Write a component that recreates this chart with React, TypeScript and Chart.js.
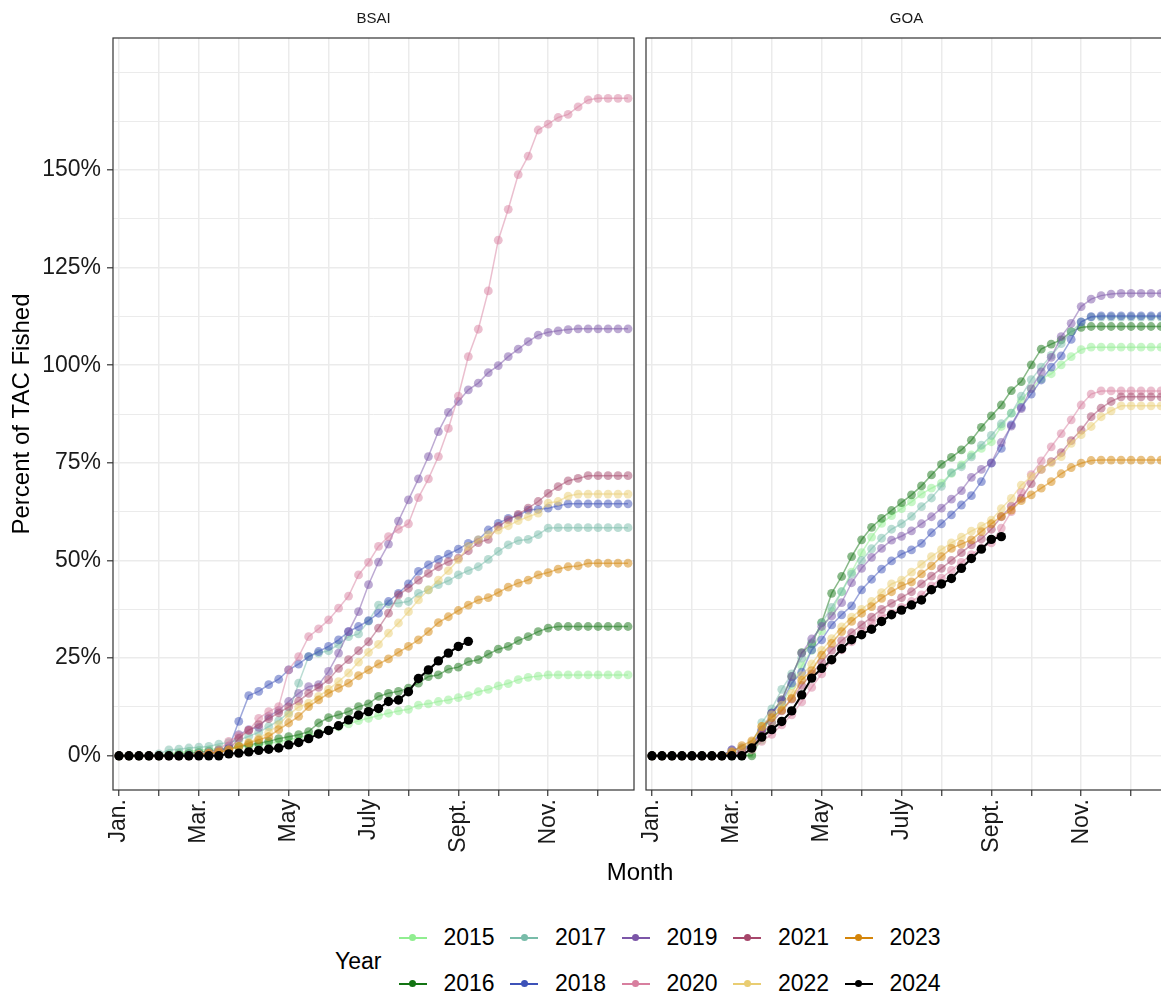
import React, { useEffect, useRef } from 'react';
import { Chart, registerables } from 'chart.js';

Chart.register(...registerables);

const FONT = "'Liberation Sans', Arial, Helvetica, sans-serif";

// ---------- data ----------
const WEEKS = [0, 1, 2, 3, 4, 5, 6, 7, 8, 9, 10, 11, 12, 13, 14, 15, 16, 17, 18, 19, 20, 21, 22, 23, 24, 25,
  26, 27, 28, 29, 30, 31, 32, 33, 34, 35, 36, 37, 38, 39, 40, 41, 42, 43, 44, 45, 46, 47, 48, 49, 50, 51];

const YEARS = ['2015', '2016', '2017', '2018', '2019', '2020', '2021', '2022', '2023', '2024'];
const YEAR_COLORS = ['#90EE90', '#137413', '#78BCA9', '#3D52B8', '#7C56A8', '#D87F9F', '#A6476B', '#E9CD72', '#D4850A', '#000000'];

const X_BREAKS = [0, 4, 8, 12, 17, 21, 25, 29, 34, 38, 43, 48];
const X_LABELS = ['Jan.', '', 'Mar.', '', 'May', '', 'July', '', 'Sept.', '', 'Nov.', ''];

const Y_BREAKS = [0, 25, 50, 75, 100, 125, 150];
const Y_LABELS = ['0%', '25%', '50%', '75%', '100%', '125%', '150%'];
const Y_MINOR = [12.5, 37.5, 62.5, 87.5, 112.5, 137.5, 162.5, 175];

const PANELS = ['BSAI', 'GOA'];

// BSAI, percent of TAC fished by week
const BSAI_2015 = [0, 0, 0, 0, 0, 0.5, 0.8, 1.1, 1.4, 1.6, 1.8, 2.0, 2.2, 2.5, 2.8, 3.2, 3.6, 4.1, 4.6, 5.2,
  5.9, 6.6, 7.4, 8.2, 9.0, 9.6, 10.3, 10.9, 11.5, 11.9, 13.0, 13.3, 13.9, 14.3, 14.9, 15.4, 16.4, 17.0, 17.9, 18.5,
  19.5, 20.1, 20.4, 20.7, 20.7, 20.7, 20.7, 20.7, 20.7, 20.7, 20.7, 20.7];
const BSAI_2016 = [0, 0, 0, 0, 0, 0.2, 0.4, 0.6, 0.9, 1.2, 1.5, 1.9, 2.4, 2.8, 3.2, 3.7, 4.4, 4.9, 5.4, 6.2,
  8.4, 9.8, 10.5, 11.3, 12.6, 13.3, 15.2, 16.0, 16.5, 17.3, 18.6, 20.3, 20.7, 22.2, 22.7, 24.1, 24.6, 26.0, 27.3, 28.0,
  29.5, 30.5, 31.8, 32.7, 33.1, 33.1, 33.1, 33.1, 33.1, 33.1, 33.1, 33.1];
const BSAI_2017 = [0, 0, 0, 0, 0.5, 1.5, 1.7, 2.0, 2.2, 2.4, 3.0, 3.4, 4.0, 5.0, 6.0, 7.5, 9.0, 11.0, 18.6, 25.4,
  26.3, 26.9, 28.5, 30.5, 31.2, 34.5, 38.6, 38.9, 39.1, 39.5, 41.6, 42.5, 43.8, 44.8, 46.3, 47.4, 48.4, 50.3, 52.3, 54.0,
  55.1, 55.4, 56.6, 58.3, 58.4, 58.4, 58.4, 58.4, 58.4, 58.4, 58.4, 58.4];
const BSAI_2018 = [0, 0, 0, 0, 0, 0, 0, 0.2, 0.4, 0.7, 1.0, 2.0, 8.8, 15.4, 16.5, 18.2, 19.6, 22.0, 23.5, 25.4,
  26.7, 28.0, 29.7, 31.8, 33.1, 34.6, 36.5, 39.5, 41.6, 44.0, 47.2, 48.9, 50.3, 51.6, 52.9, 54.4, 55.3, 57.8, 59.5, 60.8,
  61.5, 62.9, 63.1, 63.4, 64.0, 64.5, 64.5, 64.5, 64.5, 64.5, 64.5, 64.5];
const BSAI_2019 = [0, 0, 0, 0, 0, 0, 0, 0, 0.3, 0.6, 1.2, 2.5, 5.4, 6.7, 7.3, 10.1, 11.6, 13.9, 16.0, 17.7,
  18.2, 21.6, 26.3, 31.8, 36.9, 43.8, 49.6, 54.2, 60.1, 65.5, 70.9, 76.6, 83.0, 87.9, 90.7, 93.7, 95.4, 98.1, 99.9, 102.2,
  104.1, 106.0, 107.7, 108.4, 108.8, 109.1, 109.3, 109.3, 109.3, 109.3, 109.3, 109.3];
const BSAI_2020 = [0, 0, 0, 0, 0, 0, 0, 0, 0.3, 0.8, 1.5, 3.7, 5.1, 6.5, 9.6, 11.3, 12.6, 22.0, 25.4, 30.5,
  32.5, 34.8, 37.8, 40.9, 46.3, 49.5, 53.6, 56.1, 58.0, 59.4, 66.1, 70.9, 76.6, 83.8, 92.1, 102.2, 109.2, 119.0, 132.0, 139.9,
  148.8, 153.5, 160.2, 161.7, 163.4, 164.2, 166.1, 167.9, 168.3, 168.3, 168.3, 168.3];
const BSAI_2021 = [0, 0, 0, 0, 0, 0, 0, 0, 0, 0.4, 0.8, 1.5, 4.5, 6.5, 8.0, 9.5, 11.0, 12.5, 14.0, 16.0,
  17.5, 19.5, 22.4, 24.6, 26.9, 29.2, 32.7, 36.5, 41.2, 42.9, 45.0, 46.7, 48.4, 49.7, 50.6, 52.5, 54.6, 55.4, 58.7, 60.4,
  61.8, 63.4, 65.1, 67.2, 68.9, 70.4, 71.0, 71.7, 71.7, 71.7, 71.7, 71.7];
const BSAI_2022 = [0, 0, 0, 0, 0, 0, 0, 0, 0.3, 0.6, 1.0, 1.5, 2.5, 3.5, 4.5, 6.0, 8.0, 10.5, 12.5, 13.5,
  15.2, 17.0, 19.0, 21.2, 24.0, 26.5, 28.5, 31.4, 34.0, 36.9, 39.9, 42.5, 45.0, 47.4, 50.2, 53.6, 55.3, 56.6, 57.8, 58.9,
  60.2, 61.2, 62.1, 64.7, 65.1, 66.5, 67.0, 67.0, 67.0, 67.0, 67.0, 67.0];
const BSAI_2023 = [0, 0, 0, 0, 0, 0, 0, 0, 0.3, 0.6, 1.0, 1.5, 2.4, 3.2, 4.1, 4.9, 6.7, 8.4, 10.1, 12.6,
  14.3, 16.0, 17.3, 18.6, 20.5, 22.0, 23.5, 24.8, 26.5, 28.0, 29.7, 31.8, 34.1, 35.6, 37.2, 38.6, 39.9, 40.5, 41.8, 43.2,
  44.2, 45.0, 46.3, 46.9, 47.8, 48.4, 48.6, 49.3, 49.3, 49.3, 49.3, 49.3];
const BSAI_2024 = [0, 0, 0, 0, 0, 0, 0, 0, 0, 0, 0, 0.5, 0.7, 1.0, 1.4, 1.7, 2.0, 2.8, 3.4, 4.4,
  5.6, 6.5, 7.7, 9.2, 10.4, 11.3, 12.1, 13.9, 14.3, 16.4, 19.8, 22.0, 24.3, 26.3, 28.0, 29.3];

// GOA, percent of TAC fished by week
const GOA_2015 = [0, 0, 0, 0, 0, 0, 0, 0, 0, 0, 0.5, 4.0, 8.5, 13.0, 18.0, 23.0, 27.0, 32.0, 37.0, 42.0,
  47.0, 52.0, 56.0, 59.5, 61.5, 63.3, 65.0, 67.0, 68.5, 69.8, 72.3, 74.5, 77.0, 78.7, 80.4, 84.3, 87.7, 91.0, 94.0, 96.5,
  97.8, 100.1, 102.2, 104.0, 104.6, 104.6, 104.6, 104.6, 104.6, 104.6, 104.6, 104.6];
const GOA_2016 = [0, 0, 0, 0, 0, 0, 0, 0, 0, 0, 0, 5.4, 11.0, 14.3, 20.3, 26.4, 28.7, 34.1, 41.6, 45.9,
  51.0, 55.3, 58.5, 60.8, 62.8, 64.8, 66.8, 69.1, 71.9, 74.6, 76.4, 78.3, 80.8, 84.1, 87.0, 89.8, 93.5, 95.8, 100.1, 104.1,
  105.4, 106.5, 108.6, 109.7, 109.9, 109.9, 109.9, 109.9, 109.9, 109.9, 109.9, 109.9];
const GOA_2017 = [0, 0, 0, 0, 0, 0, 0, 0, 0.5, 1.5, 3.0, 8.5, 12.0, 17.0, 21.0, 25.0, 29.0, 34.0, 38.0, 42.0,
  46.5, 50.0, 53.0, 55.7, 58.0, 59.4, 61.3, 63.8, 66.0, 69.0, 72.5, 74.0, 76.5, 79.5, 82.0, 85.0, 87.7, 92.1, 96.3, 99.5,
  102.5, 105.5, 108.5, 111.0, 112.3, 112.3, 112.3, 112.3, 112.3, 112.3, 112.3, 112.3];
const GOA_2018 = [0, 0, 0, 0, 0, 0, 0, 0, 1.5, 2.0, 2.8, 6.6, 10.9, 13.9, 18.6, 21.4, 27.1, 29.7, 33.5, 36.1,
  38.4, 42.5, 45.2, 47.8, 49.9, 51.6, 52.7, 54.4, 57.1, 59.4, 61.7, 64.2, 66.6, 70.2, 74.9, 78.7, 84.7, 89.2, 92.6, 96.2,
  99.5, 102.4, 106.6, 111.1, 112.4, 112.6, 112.6, 112.6, 112.6, 112.6, 112.6, 112.6];
const GOA_2019 = [0, 0, 0, 0, 0, 0, 0, 0, 1.5, 1.6, 2.4, 6.6, 10.9, 14.3, 20.3, 26.3, 29.9, 33.1, 35.8, 39.2,
  44.3, 48.0, 50.8, 53.1, 55.2, 56.2, 57.6, 59.4, 61.2, 63.4, 65.7, 67.9, 71.3, 73.3, 75.0, 80.2, 84.4, 88.9, 94.0, 98.3,
  102.0, 107.3, 110.7, 115.0, 116.9, 117.8, 118.2, 118.4, 118.4, 118.4, 118.4, 118.4];
const GOA_2020 = [0, 0, 0, 0, 0, 0, 0, 0, 0, 0.5, 1.5, 3.7, 5.5, 7.9, 10.5, 13.8, 17.5, 21.0, 24.5, 27.1,
  29.2, 31.8, 34.0, 35.7, 36.5, 38.0, 39.5, 41.2, 43.5, 45.5, 47.5, 49.5, 51.5, 53.2, 54.5, 58.3, 62.5, 67.5, 72.0, 75.5,
  79.1, 82.5, 86.0, 89.8, 92.6, 93.4, 93.4, 93.4, 93.4, 93.4, 93.4, 93.4];
const GOA_2021 = [0, 0, 0, 0, 0, 0, 0, 0, 0.5, 1.0, 2.5, 5.5, 8.5, 11.5, 14.5, 18.0, 21.0, 24.0, 27.0, 29.5,
  31.5, 33.5, 35.5, 37.5, 39.0, 40.5, 42.0, 44.0, 46.0, 48.0, 50.0, 52.0, 54.0, 55.5, 58.0, 61.2, 63.9, 65.9, 69.7, 73.3,
  75.3, 77.6, 80.7, 83.4, 86.8, 89.0, 90.7, 91.9, 91.9, 91.9, 91.9, 91.9];
const GOA_2022 = [0, 0, 0, 0, 0, 0, 0, 0, 1.0, 2.0, 3.5, 7.5, 10.5, 13.0, 16.0, 20.5, 23.5, 27.0, 30.0, 33.0,
  35.5, 37.5, 39.5, 41.8, 44.0, 45.0, 47.0, 49.0, 51.0, 52.8, 54.5, 56.0, 57.5, 58.8, 60.3, 63.3, 65.9, 69.3, 71.5, 73.3,
  75.0, 76.6, 80.0, 82.2, 84.3, 86.8, 88.3, 89.6, 89.6, 89.6, 89.6, 89.6];
const GOA_2023 = [0, 0, 0, 0, 0, 0, 0, 0, 1.0, 2.6, 3.8, 7.5, 9.8, 11.7, 14.7, 19.4, 21.8, 25.8, 28.8, 31.8,
  34.4, 36.5, 38.2, 40.3, 42.0, 43.5, 44.5, 46.6, 48.6, 51.0, 53.1, 54.2, 55.3, 57.4, 59.4, 61.3, 62.9, 65.3, 66.8, 68.5,
  70.2, 72.2, 73.8, 74.9, 75.6, 75.7, 75.7, 75.7, 75.7, 75.7, 75.7, 75.7];
const GOA_2024 = [0, 0, 0, 0, 0, 0, 0, 0, 0, 0, 2.0, 4.8, 6.7, 8.8, 11.5, 15.6, 19.9, 22.4, 24.6, 27.4,
  29.7, 31.0, 32.4, 34.4, 36.1, 37.3, 38.6, 39.9, 42.5, 44.0, 45.4, 48.0, 50.5, 52.9, 55.4, 56.1];

const BSAI_SERIES = [BSAI_2015, BSAI_2016, BSAI_2017, BSAI_2018, BSAI_2019, BSAI_2020, BSAI_2021, BSAI_2022, BSAI_2023, BSAI_2024];
const GOA_SERIES = [GOA_2015, GOA_2016, GOA_2017, GOA_2018, GOA_2019, GOA_2020, GOA_2021, GOA_2022, GOA_2023, GOA_2024];

// ---------- style ----------
const GRID = '#EBEBEB';
const AXIS = '#333333';
const TEXT = '#1A1A1A';
const ALPHA = 0.5;

function withAlpha(hex: string, a: number) {
  const n = parseInt(hex.slice(1), 16);
  return `rgba(${(n >> 16) & 255},${(n >> 8) & 255},${n & 255},${a})`;
}

const panelBorder = {
  id: 'panelBorder',
  afterDraw(chart: any) {
    const { ctx, chartArea: a } = chart;
    ctx.save();
    ctx.strokeStyle = AXIS;
    ctx.lineWidth = 1.2;
    ctx.strokeRect(a.left, a.top, a.right - a.left, a.bottom - a.top);
    ctx.restore();
  },
};

function buildConfig(panel: string, series: number[][], first: boolean): any {
  const n = YEARS.length;
  const datasets = series.map((vals, i) => {
    const last = i === n - 1;
    const col = last ? YEAR_COLORS[i] : withAlpha(YEAR_COLORS[i], ALPHA);
    return {
      label: YEARS[i],
      data: vals.map((v, k) => ({ x: WEEKS[k], y: v })),
      borderColor: col,
      backgroundColor: col,
      borderWidth: last ? 2 : 1.5,
      pointRadius: last ? 4.7 : 4.4,
      pointBorderWidth: 0,
      pointHoverRadius: 4.4,
      tension: 0,
      order: n - i,
    };
  });
  return {
    type: 'line',
    data: { datasets },
    plugins: [panelBorder],
    options: {
      animation: false,
      responsive: false,
      devicePixelRatio: 1,
      events: [],
      layout: { padding: { left: 0, right: first ? 6 : 7, top: 0, bottom: 0 } },
      plugins: {
        legend: { display: false },
        tooltip: { enabled: false },
        title: {
          display: true,
          text: panel,
          fullSize: false,
          color: TEXT,
          font: { family: FONT, size: 15, weight: 'normal' },
          padding: { top: 10, bottom: 10 },
        },
      },
      scales: {
        x: {
          type: 'linear',
          min: -0.6,
          max: 51.6,
          afterBuildTicks: (s: any) => { s.ticks = X_BREAKS.map((v) => ({ value: v })); },
          afterFit: (s: any) => { s.height = 80; },
          border: { display: false },
          grid: { color: GRID, lineWidth: 1.5, tickColor: AXIS, tickLength: 6, tickWidth: 1.2 },
          ticks: {
            autoSkip: false,
            minRotation: 90,
            maxRotation: 90,
            padding: 3,
            color: TEXT,
            font: { family: FONT, size: 23 },
            callback: (_v: any, idx: number) => X_LABELS[idx],
          },
        },
        y: {
          type: 'linear',
          min: -8.75,
          max: 183.75,
          afterBuildTicks: (s: any) => {
            s.ticks = [...Y_BREAKS, ...Y_MINOR].sort((a, b) => a - b).map((v) => ({ value: v }));
          },
          afterFit: (s: any) => { s.width = first ? 113 : 6; },
          border: { display: false },
          grid: {
            color: GRID,
            lineWidth: (c: any) => (Y_BREAKS.includes(c.tick?.value) ? 1.6 : 1.0),
            tickColor: (c: any) => (Y_BREAKS.includes(c.tick?.value) ? AXIS : 'rgba(0,0,0,0)'),
            tickLength: 6,
            tickWidth: 1.2,
            drawTicks: first,
          },
          ticks: {
            display: first,
            autoSkip: false,
            padding: 6,
            color: TEXT,
            font: { family: FONT, size: 23 },
            callback: (v: any) => {
              const k = Y_BREAKS.indexOf(v);
              return k >= 0 ? Y_LABELS[k] : '';
            },
          },
          title: {
            display: first,
            text: 'Percent of TAC Fished',
            color: '#000',
            font: { family: FONT, size: 24 },
            padding: { top: 8, bottom: 0 },
          },
        },
      },
    },
  };
}

function Legend() {
  const items = YEARS.map((y, i) => {
    const col = Math.floor(i / 2);
    const row = i % 2;
    const left = 398.5 + col * 111.5;
    const cy = row === 0 ? 937.5 : 983.5;
    return (
      <React.Fragment key={y}>
        <div style={{ position: 'absolute', left, top: cy - 1, width: 28, height: 2, background: YEAR_COLORS[i] }} />
        <div style={{ position: 'absolute', left: left + 10.5, top: cy - 3.5, width: 7, height: 7, borderRadius: '50%', background: YEAR_COLORS[i] }} />
        <div style={{ position: 'absolute', left: left + 45, top: cy - 13.5, fontSize: 23, lineHeight: '27px', color: '#000', whiteSpace: 'nowrap' }}>{y}</div>
      </React.Fragment>
    );
  });
  return (
    <>
      <div style={{ position: 'absolute', left: 335, top: 947.5, fontSize: 23, lineHeight: '27px', color: '#000' }}>Year</div>
      {items}
    </>
  );
}

export default function App() {
  const refA = useRef<HTMLCanvasElement | null>(null);
  const refB = useRef<HTMLCanvasElement | null>(null);

  useEffect(() => {
    Chart.defaults.font.family = FONT;
    const a = new Chart(refA.current as HTMLCanvasElement, buildConfig(PANELS[0], BSAI_SERIES, true));
    const b = new Chart(refB.current as HTMLCanvasElement, buildConfig(PANELS[1], GOA_SERIES, false));
    return () => { a.destroy(); b.destroy(); };
  }, []);

  return (
    <div style={{ position: 'absolute', left: 0, top: 0, width: 1161, height: 995, overflow: 'hidden', background: '#fff', fontFamily: FONT }}>
      <canvas ref={refA} width={640} height={870} style={{ position: 'absolute', left: 0, top: 0, width: 640, height: 870 }} />
      <canvas ref={refB} width={534} height={870} style={{ position: 'absolute', left: 640, top: 0, width: 534, height: 870 }} />
      <div style={{ position: 'absolute', left: 540, top: 858, width: 200, textAlign: 'center', fontSize: 24, lineHeight: '28px', color: '#000' }}>Month</div>
      <Legend />
    </div>
  );
}
